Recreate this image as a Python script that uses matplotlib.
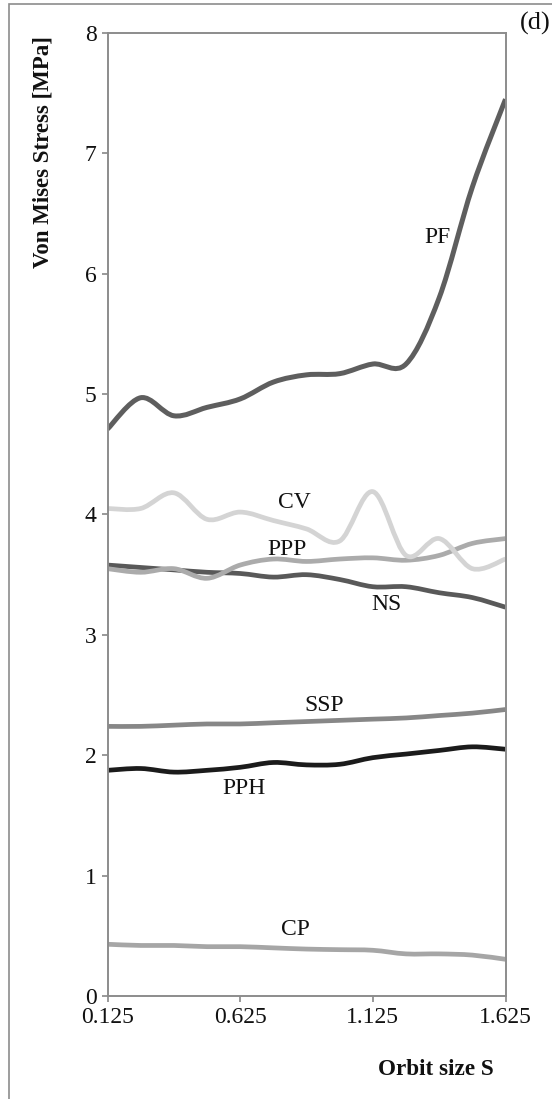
import matplotlib.pyplot as plt
from matplotlib.path import Path
from matplotlib.patches import PathPatch, Rectangle

plt.rcParams['font.family'] = ['Liberation Serif', 'DejaVu Serif']

# Orbit size S
orbit = [0.125, 0.25, 0.375, 0.5, 0.625, 0.75, 0.875, 1.0, 1.125, 1.25, 1.375, 1.5, 1.625]

# Von Mises stress [MPa] for each case
pf = [4.71, 4.97, 4.82, 4.89, 4.96, 5.10, 5.16, 5.17, 5.25, 5.25, 5.80, 6.72, 7.45]
cv = [4.05, 4.05, 4.18, 3.96, 4.02, 3.95, 3.88, 3.78, 4.19, 3.66, 3.80, 3.55, 3.63]
ppp = [3.55, 3.52, 3.55, 3.47, 3.58, 3.63, 3.61, 3.63, 3.64, 3.62, 3.66, 3.76, 3.80]
ns = [3.58, 3.56, 3.54, 3.52, 3.51, 3.48, 3.50, 3.46, 3.40, 3.40, 3.35, 3.31, 3.23]
ssp = [2.24, 2.24, 2.25, 2.26, 2.26, 2.27, 2.28, 2.29, 2.30, 2.31, 2.33, 2.35, 2.38]
pph = [1.875, 1.89, 1.86, 1.875, 1.90, 1.94, 1.92, 1.925, 1.98, 2.01, 2.04, 2.07, 2.05]
cp = [0.43, 0.42, 0.42, 0.41, 0.41, 0.40, 0.39, 0.385, 0.38, 0.35, 0.35, 0.34, 0.305]

x_ticks = [0.125, 0.625, 1.125, 1.625]


def smooth_path(xs, ys):
    # Catmull-Rom style bezier through every point (like a spreadsheet "smoothed line")
    n = len(xs)
    pts = list(zip(xs, ys))
    verts = [pts[0]]
    codes = [Path.MOVETO]
    for i in range(n - 1):
        p0 = pts[i - 1] if i > 0 else pts[i]
        p1 = pts[i]
        p2 = pts[i + 1]
        p3 = pts[i + 2] if i + 2 < n else pts[i + 1]
        c1 = (p1[0] + (p2[0] - p0[0]) / 6, p1[1] + (p2[1] - p0[1]) / 6)
        c2 = (p2[0] - (p3[0] - p1[0]) / 6, p2[1] - (p3[1] - p1[1]) / 6)
        verts += [c1, c2, p2]
        codes += [Path.CURVE4] * 3
    return Path(verts, codes)


fig = plt.figure(figsize=(5.52, 10.99), dpi=100)
ax = fig.add_axes([0.1948, 0.0937, 0.721, 0.8763])

series = [
    (ns, '#595959', 3.4),
    (ppp, '#ababab', 3.4),
    (cv, '#d4d4d4', 3.4),
    (ssp, '#878787', 3.4),
    (pph, '#1b1b1b', 3.4),
    (cp, '#a6a6a6', 3.4),
    (pf, '#5e5e5e', 3.6),
]
for ys, col, lw in series:
    ax.add_patch(PathPatch(smooth_path(orbit, ys), fill=False, edgecolor=col,
                           lw=lw, capstyle='butt', joinstyle='round'))

labels = [
    ('PF', 1.37, 6.30),
    ('CV', 0.83, 4.10),
    ('PPP', 0.80, 3.71),
    ('NS', 1.175, 3.25),
    ('SSP', 0.94, 2.415),
    ('PPH', 0.64, 1.72),
    ('CP', 0.835, 0.55),
]
for txt, lx, ly in labels:
    ax.text(lx, ly, txt, fontsize=17, ha='center', va='center', color='#111111')

ax.set_xlim(0.125, 1.625)
ax.set_ylim(0, 8)
ax.set_xticks(x_ticks)
ax.set_xticklabels(['0.125', '0.625', '1.125', '1.625'])
ax.set_yticks(range(0, 9))
ax.tick_params(axis='both', labelsize=17, colors='#888888', labelcolor='#111111',
               length=4.5, width=1.2, direction='out')
for sp in ax.spines.values():
    sp.set_color('#8c8c8c')
    sp.set_linewidth(1.4)

fig.text(0.078, 0.862, 'Von Mises Stress [MPa]', rotation=90, ha='center', va='center',
         fontsize=16.5, fontweight='bold', color='#111111')
fig.text(0.789, 0.0264, 'Orbit size S', ha='center', va='center',
         fontsize=16.7, fontweight='bold', color='#111111')
fig.text(0.997, 0.979, '(d)', ha='right', va='center', fontsize=19, color='#111111')

# outer frame around the panel
fig.patches.append(Rectangle((0.017, -0.1), 1.2, 1.1 - 0.0036, transform=fig.transFigure,
                             fill=False, edgecolor='#8c8c8c', lw=1.2))

fig.savefig('out.png', dpi=100)
